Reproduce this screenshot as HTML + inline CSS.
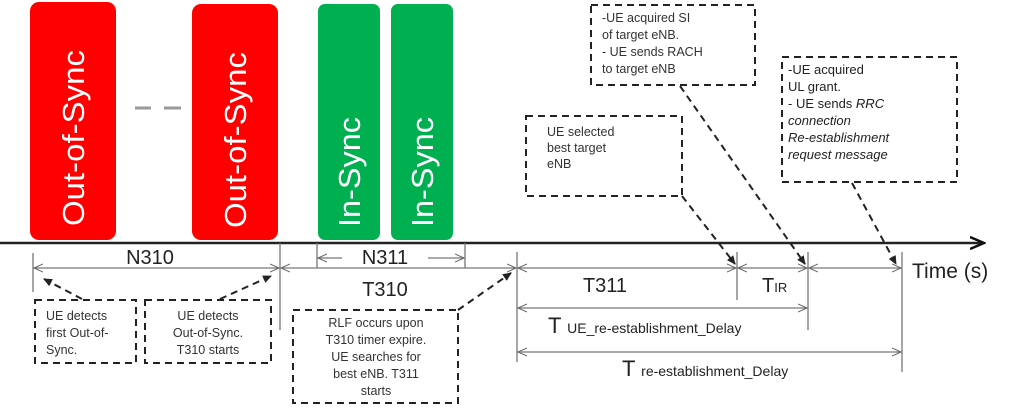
<!DOCTYPE html>
<html><head><meta charset="utf-8"><style>
body{margin:0;background:#fff;}
svg{display:block;font-family:"Liberation Sans",Arial,sans-serif;}
</style></head><body>
<svg width="1017" height="418" viewBox="0 0 1017 418" xmlns="http://www.w3.org/2000/svg">
<defs>
<marker id="oa" markerWidth="10" markerHeight="10" refX="9" refY="5" orient="auto-start-reverse" markerUnits="userSpaceOnUse"><path d="M0,1 L9,5 L0,9" fill="none" stroke="#666" stroke-width="1"/></marker>
<marker id="fa" markerWidth="10" markerHeight="10" refX="8" refY="5" orient="auto" markerUnits="userSpaceOnUse"><path d="M0,1 L9,5 L0,9 z" fill="#222"/></marker>
<marker id="ax" markerWidth="16" markerHeight="14" refX="14" refY="7" orient="auto" markerUnits="userSpaceOnUse"><path d="M0,1 L14,7 L0,13" fill="none" stroke="#111" stroke-width="2.5"/></marker>
</defs>
<rect x="30" y="2" width="86" height="238" rx="9" fill="#ff0000"/>
<rect x="192" y="4" width="86" height="236" rx="9" fill="#ff0000"/>
<rect x="318" y="4" width="62" height="236" rx="7" fill="#00b050"/>
<rect x="391" y="4" width="62" height="236" rx="7" fill="#00b050"/>
<g fill="#fff" font-size="31">
<text transform="translate(84,138) rotate(-90)" text-anchor="middle" textLength="176" lengthAdjust="spacingAndGlyphs">Out-of-Sync</text>
<text transform="translate(246,140) rotate(-90)" text-anchor="middle" textLength="176" lengthAdjust="spacingAndGlyphs">Out-of-Sync</text>
<text transform="translate(360,172) rotate(-90)" text-anchor="middle" textLength="110" lengthAdjust="spacingAndGlyphs">In-Sync</text>
<text transform="translate(433,172) rotate(-90)" text-anchor="middle" textLength="110" lengthAdjust="spacingAndGlyphs">In-Sync</text>
</g>
<line x1="135" y1="108" x2="151" y2="108" stroke="#999" stroke-width="3"/>
<line x1="164" y1="108" x2="181" y2="108" stroke="#999" stroke-width="3"/>
<line x1="0" y1="243" x2="984" y2="243" stroke="#222" stroke-width="2.5" marker-end="url(#ax)"/>
<text x="912" y="278" font-size="21" fill="#222">Time (s)</text>
<g stroke="#777" stroke-width="1.3">
<line x1="33" y1="253" x2="33" y2="292"/>
<line x1="280" y1="243" x2="280" y2="330"/>
<line x1="317" y1="243" x2="317" y2="268"/>
<line x1="465" y1="243" x2="465" y2="268"/>
<line x1="517" y1="252" x2="517" y2="362"/>
<line x1="737" y1="252" x2="737" y2="300"/>
<line x1="808" y1="252" x2="808" y2="330"/>
<line x1="902" y1="252" x2="902" y2="372"/>
</g>
<g stroke="#777" stroke-width="1.3" fill="none">
<line x1="34" y1="268" x2="279" y2="268" marker-start="url(#oa)" marker-end="url(#oa)"/>
<line x1="281" y1="268" x2="516" y2="268" marker-start="url(#oa)" marker-end="url(#oa)"/>
<line x1="318" y1="258" x2="342" y2="258" marker-start="url(#oa)"/>
<line x1="428" y1="258" x2="464" y2="258" marker-end="url(#oa)"/>
<line x1="518" y1="268" x2="736" y2="268" marker-start="url(#oa)" marker-end="url(#oa)"/>
<line x1="738" y1="268" x2="807" y2="268" marker-start="url(#oa)" marker-end="url(#oa)"/>
<line x1="809" y1="268" x2="901" y2="268" marker-start="url(#oa)" marker-end="url(#oa)"/>
<line x1="518" y1="308" x2="807" y2="308" marker-start="url(#oa)" marker-end="url(#oa)"/>
<line x1="518" y1="352" x2="901" y2="352" marker-start="url(#oa)" marker-end="url(#oa)"/>
</g>
<g fill="#222" font-size="20" text-anchor="middle">
<text x="150" y="264">N310</text>
<text x="385" y="264">N311</text>
<text x="385" y="296">T310</text>
<text x="605" y="292">T311</text>
</g>
<text x="762" y="292" font-size="20" fill="#222">T<tspan font-size="13">IR</tspan></text>
<text x="548" y="333" font-size="22" fill="#222">T <tspan font-size="14">UE_re-establishment_Delay</tspan></text>
<text x="622" y="376" font-size="22" fill="#222">T <tspan font-size="14">re-establishment_Delay</tspan></text>
<g fill="none" stroke="#222" stroke-width="2" stroke-dasharray="7,5">
<rect x="35" y="300" width="101" height="63"/>
<rect x="145" y="300" width="126" height="63"/>
<rect x="293" y="310" width="165" height="93"/>
<rect x="526" y="116" width="156" height="80"/>
<rect x="591" y="5" width="164" height="80"/>
<rect x="782" y="57" width="175" height="125"/>
</g>
<g fill="none" stroke="#222" stroke-width="2" stroke-dasharray="7,5">
<line x1="82" y1="299" x2="44" y2="279" marker-end="url(#fa)"/>
<line x1="220" y1="299" x2="271" y2="276" marker-end="url(#fa)"/>
<line x1="458" y1="310" x2="511" y2="273" marker-end="url(#fa)"/>
<line x1="682" y1="196" x2="735" y2="264" marker-end="url(#fa)"/>
<line x1="680" y1="86" x2="805" y2="264" marker-end="url(#fa)"/>
<line x1="852" y1="183" x2="896" y2="264" marker-end="url(#fa)"/>
</g>
<g fill="#333" font-size="12.5">
<text x="46" y="320">UE detects</text>
<text x="46" y="337">first Out-of-</text>
<text x="46" y="354">Sync.</text>
<text x="208" y="320" text-anchor="middle">UE detects</text>
<text x="208" y="337" text-anchor="middle">Out-of-Sync.</text>
<text x="208" y="354" text-anchor="middle">T310 starts</text>
<g text-anchor="middle">
<text x="376" y="327">RLF occurs upon</text>
<text x="376" y="344">T310 timer expire.</text>
<text x="376" y="361">UE searches for</text>
<text x="376" y="378">best eNB. T311</text>
<text x="376" y="395">starts</text>
</g>
<text x="547" y="136">UE selected</text>
<text x="547" y="152">best target</text>
<text x="547" y="168">eNB</text>
<text x="602" y="22">-UE acquired SI</text>
<text x="602" y="39">of target eNB.</text>
<text x="602" y="56">- UE sends RACH</text>
<text x="602" y="73">to target eNB</text>
</g>
<g fill="#222" font-size="13">
<text x="788" y="74">-UE acquired</text>
<text x="788" y="91">UL grant.</text>
<text x="788" y="108">- UE sends <tspan font-style="italic">RRC</tspan></text>
<text x="788" y="125" font-style="italic">connection</text>
<text x="788" y="142" font-style="italic">Re-establishment</text>
<text x="788" y="159" font-style="italic">request message</text>
</g>
</svg>
</body></html>
